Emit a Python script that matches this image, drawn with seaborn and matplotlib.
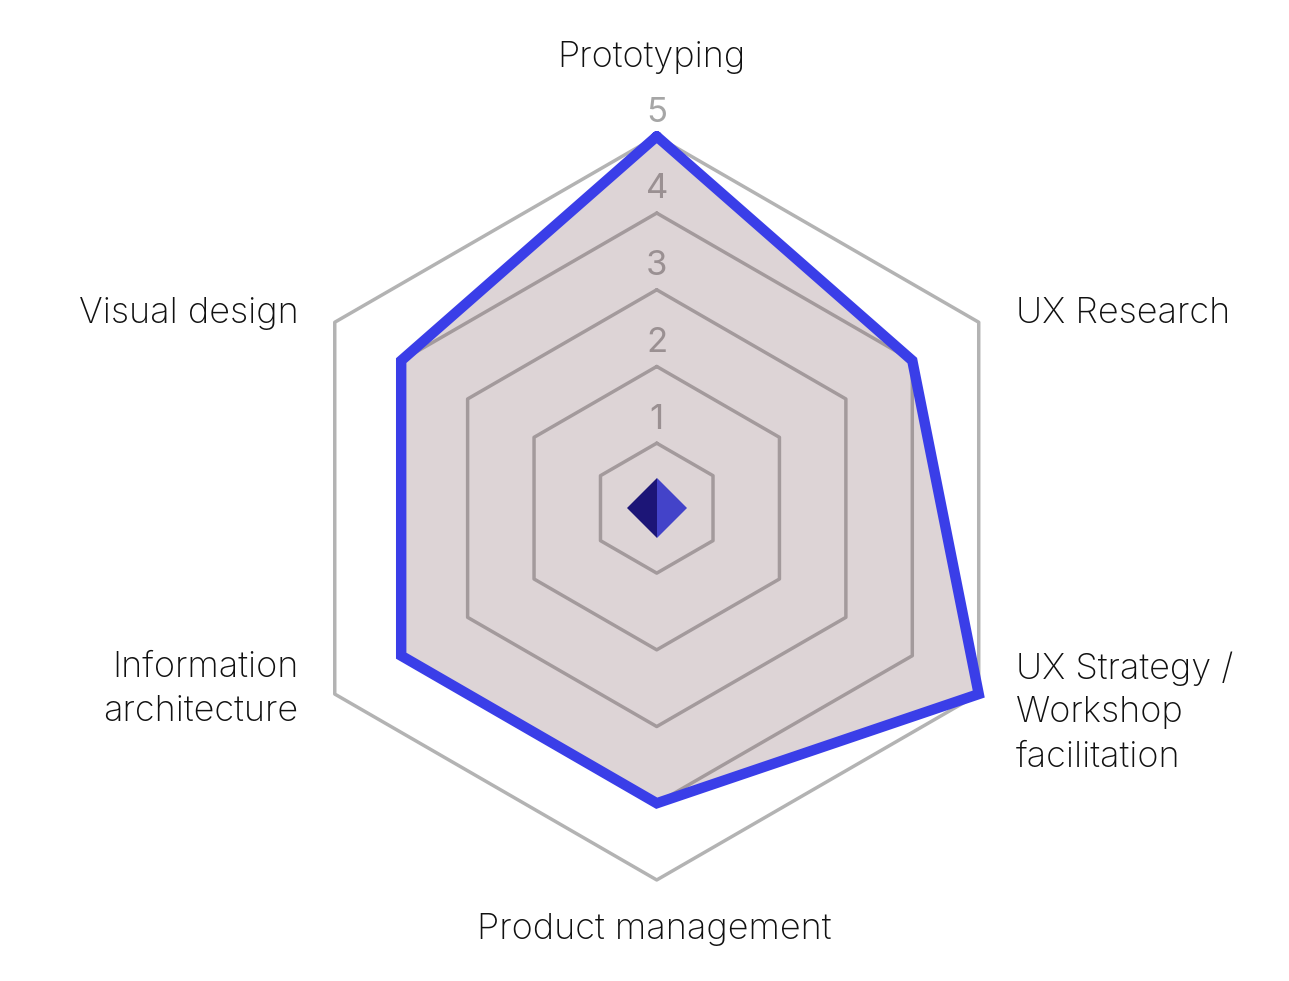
import numpy as np
import matplotlib
matplotlib.use("Agg")
import matplotlib.pyplot as plt
import seaborn as sns

# skills, clockwise from the top
skills = ["Prototyping", "UX Research", "UX Strategy /\nWorkshop\nfacilitation",
          "Product management", "Information\narchitecture", "Visual design"]
scores = [5, 4, 5, 4, 4, 4]
levels = [1, 2, 3, 4, 5]
level_labels = ["1", "2", "3", "4", "5"]

sns.set_theme(style="white")
plt.rcParams["font.family"] = ["Inter", "DejaVu Sans"]

fig = plt.figure(figsize=(12.89, 9.81), dpi=100)
ax = fig.add_axes([0.221, 0.103, 0.577, 0.758], polar=True)
ax.set_theta_offset(np.pi / 2)
ax.set_theta_direction(-1)
r_min = 0.153
ax.set_ylim(r_min, 5)

n = len(skills)
angles = [i / n * 2 * np.pi for i in range(n)]
angles_closed = angles + angles[:1]

# hexagonal grid rings
for lvl in levels:
    ax.plot(angles_closed, [lvl] * (n + 1), color="#b3b3b3", lw=2.5,
            zorder=1, clip_on=False)

# scale labels (sit under the fill, like the rings)
for lvl, lab in zip(levels, level_labels):
    ax.annotate(lab, xy=(0, lvl), xytext=(0, 17), textcoords="offset points",
                ha="center", va="center", fontsize=25, color="#a6a6a6",
                zorder=1.5)

# filled area + outline
vals = scores + scores[:1]
ax.fill(angles_closed, vals, color="#744e56", alpha=0.24, lw=0, zorder=2)
sns.lineplot(x=angles_closed, y=vals, ax=ax, sort=False, estimator=None,
             color="#3a3ee8", lw=7.5, zorder=3)
for line in ax.lines[-1:]:
    line.set_clip_on(False)
    line.set_solid_joinstyle("miter")
ax.set_xlabel("")
ax.set_ylabel("")

# centre diamond badge
ax.plot([0], [r_min], marker="D", markersize=31, fillstyle="left",
        markerfacecolor="#1c1577", markerfacecoloralt="#4343c9",
        markeredgewidth=0, zorder=5, clip_on=False)

# category labels (offsets in points)
offsets = [(-4, 57, "center", "center"),
           (27, 6, "left", "center"),
           (27, 31, "left", "top"),
           (-2, -36, "center", "center"),
           (-26, 31, "right", "top"),
           (-26, 6, "right", "center")]
for ang, name, (dx, dy, ha, va) in zip(angles, skills, offsets):
    ax.annotate(name, xy=(ang, 5), xytext=(dx, dy), textcoords="offset points",
                ha=ha, va=va, fontsize=26, color="#111111", linespacing=1.42,
                fontweight="light", multialignment=ha,
                annotation_clip=False)

ax.set_xticks([])
ax.set_yticks([])
ax.grid(False)
ax.spines["polar"].set_visible(False)
ax.patch.set_alpha(0)

fig.savefig("out.png", dpi=100)
plt.close(fig)
